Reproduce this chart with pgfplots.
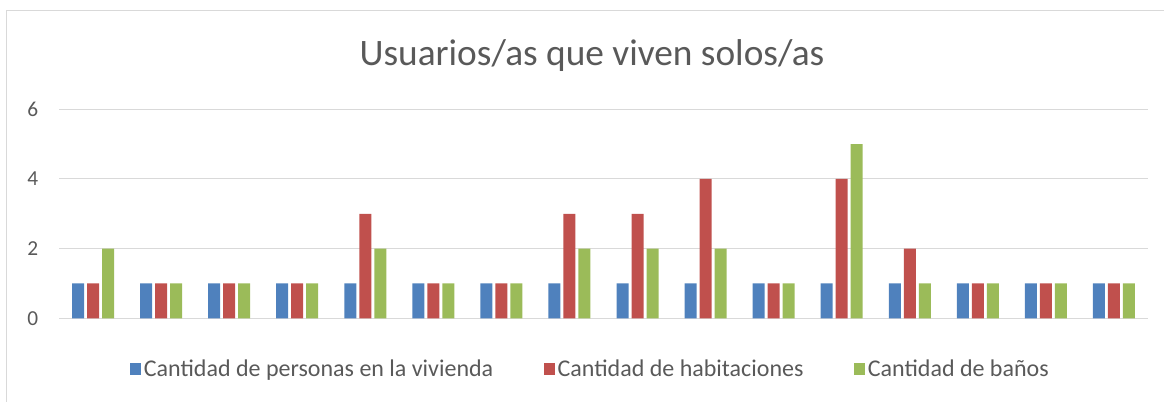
\documentclass[border=0pt]{standalone}
\usepackage{pgfplots}
\usepackage{pgfplotstable}
\pgfplotsset{compat=1.18}
\usepackage{fontspec}
\setmainfont{Carlito}
\definecolor{serA}{HTML}{4F81BD}
\definecolor{serB}{HTML}{C0504D}
\definecolor{serC}{HTML}{9BBB59}
\definecolor{txtgray}{HTML}{595959}
\definecolor{gridgray}{HTML}{D9D9D9}

\pgfplotstableread{
x p h b
0 1 1 2
1 1 1 1
2 1 1 1
3 1 1 1
4 1 3 2
5 1 1 1
6 1 1 1
7 1 3 2
8 1 3 2
9 1 4 2
10 1 1 1
11 1 4 5
12 1 2 1
13 1 1 1
14 1 1 1
15 1 1 1
}\datatable

\pgfplotsset{sqlegend/.style={legend image code/.code={\fill[#1] (0pt,-4.5pt) rectangle (8.25pt,4.5pt);}}}

\begin{document}
\begin{tikzpicture}[x=0.75pt,y=0.75pt]
\path[use as bounding box] (0,0) rectangle (1164,402);
\draw[gridgray, line width=1.2pt] (6.5,0) -- (6.5,391.5) -- (1164,391.5);
\node[text=txtgray, font=\fontsize{28}{32}\selectfont] at (592,346) {Usuarios/as que viven solos/as};
\coordinate (axpos) at (59,83.7);
\begin{axis}[
  at={(axpos)}, anchor=south west,
  scale only axis,
  width=816.75pt, height=156.75pt,
  ybar=2.25pt, bar width=9pt,
  xmin=-0.5, xmax=15.5,
  ymin=0, ymax=6,
  ytick={0,2,4,6},
  xtick=\empty,
  ymajorgrids,
  grid style={gridgray, line width=0.8pt},
  axis line style={draw=none},
  major tick style={draw=none},
  /pgf/number format/assume math mode=true,
  yticklabel style={font=\fontsize{16}{19}\selectfont, text=txtgray, xshift=-12pt},
  sqlegend,
  legend columns=3,
  legend style={at={(0.0652,-0.2426)}, anchor=west, draw=none, fill=none, inner sep=0pt,
    font=\fontsize{18}{21}\selectfont, text=txtgray,
    /tikz/every even column/.append style={column sep=36pt}},
]
\addplot[fill=serA, draw=none] table[x=x, y=p] {\datatable};
\addlegendentry{Cantidad de personas en la vivienda}
\addplot[fill=serB, draw=none] table[x=x, y=h] {\datatable};
\addlegendentry{Cantidad de habitaciones}
\addplot[fill=serC, draw=none] table[x=x, y=b] {\datatable};
\addlegendentry{Cantidad de baños}
\end{axis}
\end{tikzpicture}
\end{document}
